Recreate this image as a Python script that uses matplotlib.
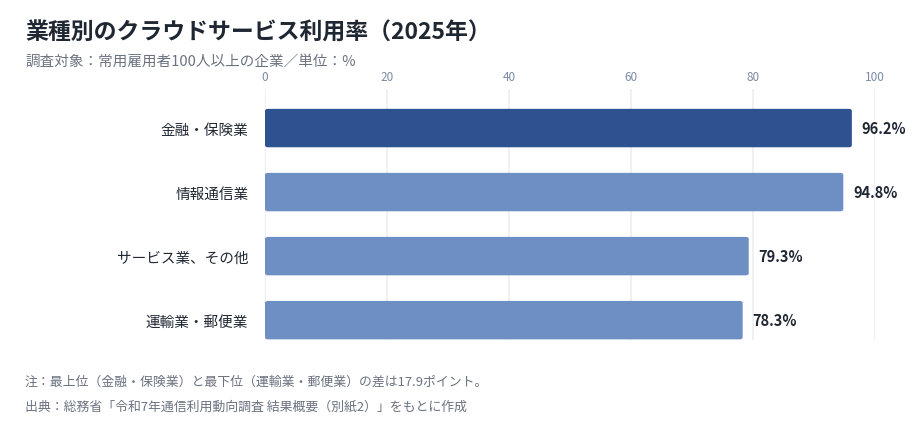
import matplotlib.pyplot as plt
from matplotlib.patches import FancyBboxPatch

plt.rcParams['font.family'] = ['Noto Sans CJK JP', 'DejaVu Sans']

# Data
categories = ['金融・保険業', '情報通信業', 'サービス業、その他', '運輸業・郵便業']
usage_rate = [96.2, 94.8, 79.3, 78.3]
x_ticks = [0, 20, 40, 60, 80, 100]

title = '業種別のクラウドサービス利用率（2025年）'
subtitle = '調査対象：常用雇用者100人以上の企業／単位：%'
note = '注：最上位（金融・保険業）と最下位（運輸業・郵便業）の差は17.9ポイント。'
source = '出典：総務省「令和7年通信利用動向調査 結果概要（別紙2）」をもとに作成'

dark_blue = '#2e5190'
light_blue = '#6e8fc4'
text_color = '#1f2733'
grey_text = '#6b7280'

fig = plt.figure(figsize=(9.24, 4.35), dpi=100)
ax = fig.add_axes([0.2868, 0.2161, 0.6602, 0.577])

y_pos = list(range(len(categories)))
colors = [dark_blue if i == 0 else light_blue for i in y_pos]
bars = ax.barh(y_pos, usage_rate, height=0.6, color=colors)

# Replace bars with rounded versions
for bar in bars:
    x0, y0 = bar.get_x(), bar.get_y()
    w, h = bar.get_width(), bar.get_height()
    rounded = FancyBboxPatch((x0, y0), w, h,
                             boxstyle='round,pad=0,rounding_size=0.45',
                             mutation_aspect=0.07,
                             facecolor=bar.get_facecolor(), edgecolor='none',
                             zorder=2)
    ax.add_patch(rounded)
    bar.set_visible(False)

for i, v in enumerate(usage_rate):
    ax.annotate(f'{v:.1f}%', xy=(v, i), xytext=(7, 0), textcoords='offset points',
                va='center', ha='left', fontsize=10.5, fontweight='bold', color=text_color)

ax.set_xlim(0, 100)
ax.set_ylim(3.31, -0.61)
ax.set_xticks(x_ticks)
ax.xaxis.tick_top()
ax.tick_params(axis='x', length=0, pad=4, labelsize=8.5, labelcolor='#7b8aa3')
ax.set_yticks(y_pos)
ax.set_yticklabels(categories)
ax.tick_params(axis='y', length=0, pad=12, labelsize=10.5, labelcolor=text_color)
ax.grid(axis='x', color='#efeff5', linewidth=1.4, zorder=0)
ax.set_axisbelow(True)
for spine in ax.spines.values():
    spine.set_visible(False)

fig.text(25 / 924, 1 - 33 / 435, title, fontsize=16.5, fontweight='bold',
         color=text_color, va='center', ha='left')
fig.text(25 / 924, 1 - 62 / 435, subtitle, fontsize=10.5, color=grey_text,
         va='center', ha='left')
fig.text(25 / 924, 1 - 382 / 435, note, fontsize=9.3, color=grey_text,
         va='center', ha='left')
fig.text(25 / 924, 1 - 407 / 435, source, fontsize=9.3, color=grey_text,
         va='center', ha='left')

fig.savefig('out.png', dpi=100)
